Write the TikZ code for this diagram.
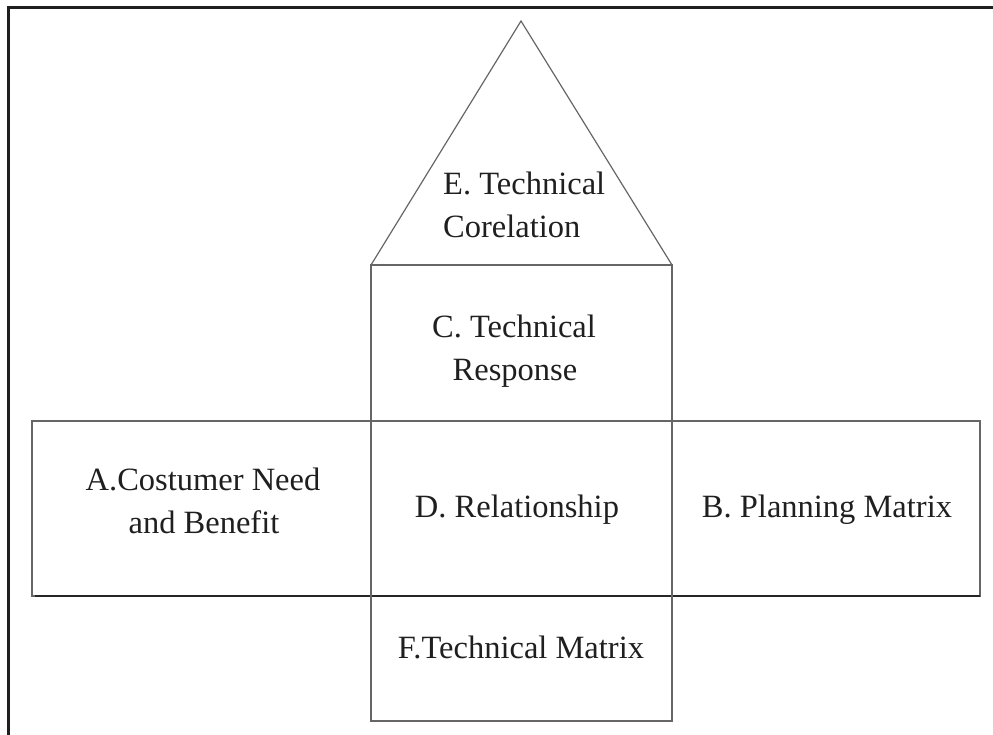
\documentclass[tikz,border=0pt]{standalone}
\usepackage{fontspec}
\setmainfont{Liberation Serif}
\begin{document}
\begin{tikzpicture}[x=1pt,y=-1pt,
  frameline/.style={line width=3pt,draw=black!88},
  boxline/.style={line width=1.2pt,draw=black!60},
  lbl/.style={anchor=base,font=\fontsize{32.5}{43}\selectfont,text=black!88,inner sep=0pt}]
\useasboundingbox (0,0) rectangle (993,735);
% frame
\draw[frameline] (8.5,735) -- (8.5,7.5) -- (993,7.5);
% coordinates
\coordinate (apex) at (521,21);
\coordinate (cTL) at (371,265);
\coordinate (cTR) at (672,265);
\coordinate (cBL) at (371,721);
\coordinate (cBR) at (672,721);
\coordinate (wTL) at (32,421);
\coordinate (wBR) at (980,596);
% roof
\draw[boxline] (cTL) -- (apex) -- (cTR);
% wide box
\draw[boxline] (wTL) rectangle (wBR);
\draw[line width=1.2pt,draw=black!85] (35,596) -- (980,596);
% column
\draw[boxline] (cTL) rectangle (cBR);
% labels
\node[lbl,anchor=base west] (e1) at (443,195) {E. Technical};
\node[lbl,anchor=base west] (e2) at (443,238) {Corelation};
\node[lbl] (c1) at (514,337) {C. Technical};
\node[lbl] (c2) at (515,380) {Response};
\node[lbl] (a1) at (203,490) {A.Costumer Need};
\node[lbl] (a2) at (204,533) {and Benefit};
\node[lbl] (d) at (517,517) {D. Relationship};
\node[lbl] (b) at (827,517) {B. Planning Matrix};
\node[lbl] (f) at (521,658) {F.Technical Matrix};
\end{tikzpicture}
\end{document}
